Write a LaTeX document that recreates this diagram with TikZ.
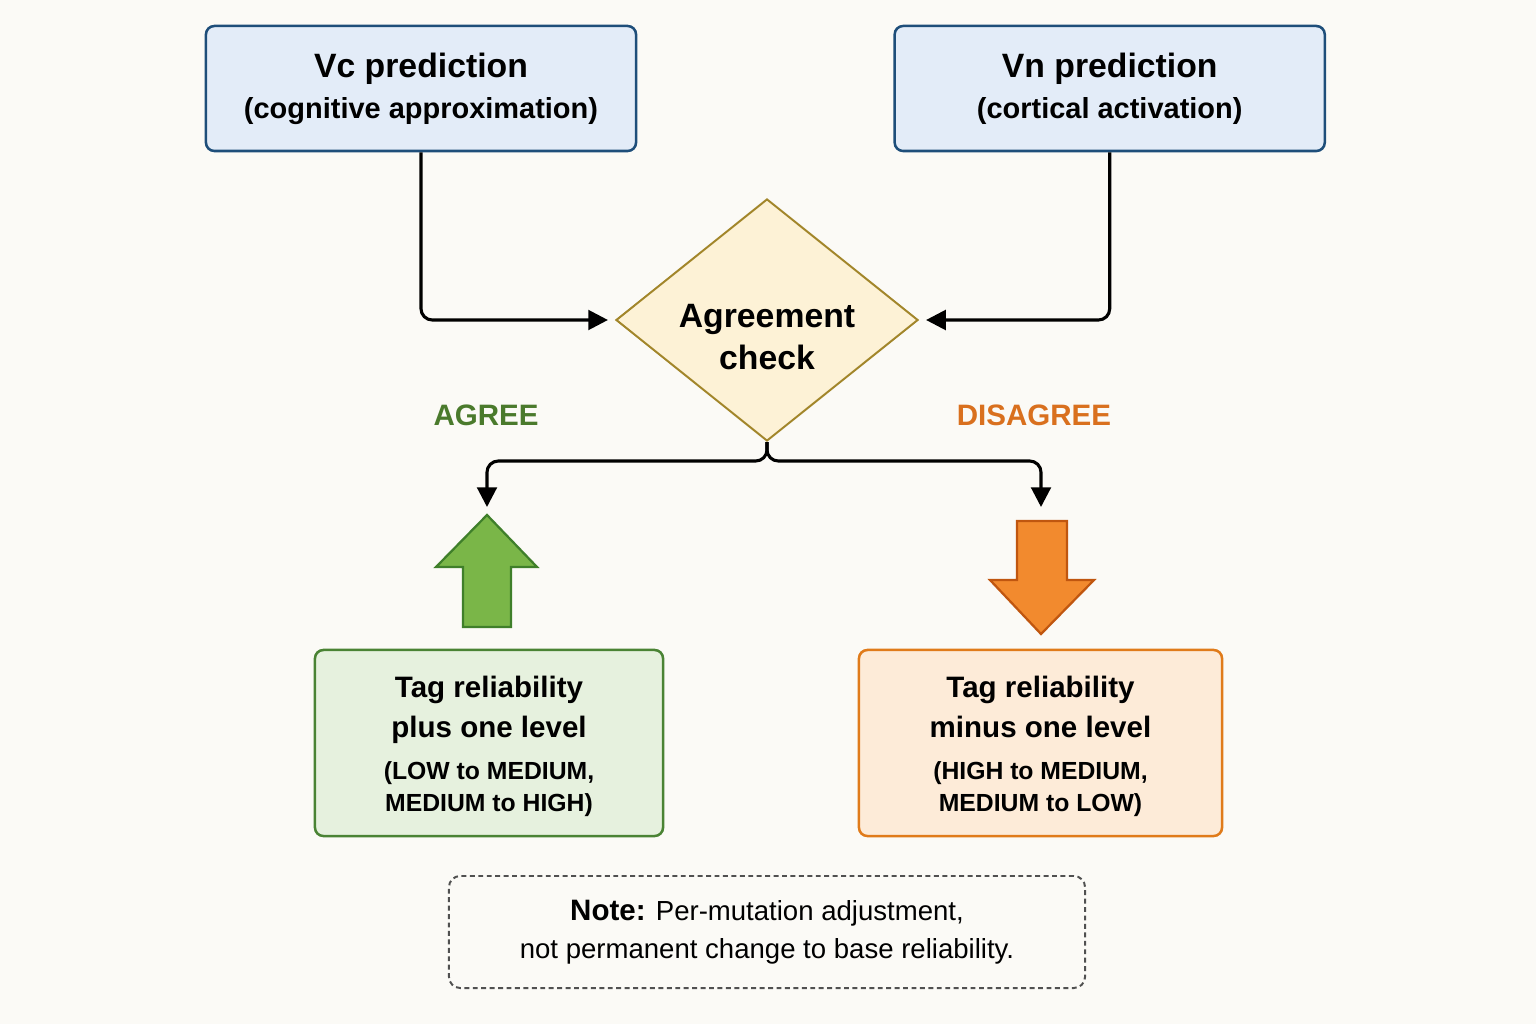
\documentclass[tikz,border=0pt]{standalone}
\usepackage{fontspec}
\setmainfont{Liberation Sans}
\usepackage{xcolor}
\usepackage{tikz}
\usetikzlibrary{shapes.geometric, arrows.meta, positioning}

\definecolor{bgcream}{HTML}{FBFAF6}
\definecolor{predfill}{HTML}{E3ECF8}
\definecolor{predline}{HTML}{1E4E7A}
\definecolor{checkfill}{HTML}{FDF2D6}
\definecolor{checkline}{HTML}{A2862A}
\definecolor{agreefill}{HTML}{E6F1DE}
\definecolor{agreeline}{HTML}{4A8334}
\definecolor{agreetext}{HTML}{4A7A2C}
\definecolor{upfill}{HTML}{7AB648}
\definecolor{upline}{HTML}{3F7F2A}
\definecolor{disfill}{HTML}{FDEBD8}
\definecolor{disline}{HTML}{E07B1A}
\definecolor{distext}{HTML}{D9701E}
\definecolor{downfill}{HTML}{F28A2E}
\definecolor{downline}{HTML}{C0560F}
\definecolor{noteline}{HTML}{505050}

\begin{document}
\begin{tikzpicture}[x=0.025cm, y=-0.025cm,
    predbox/.style={rectangle, draw=predline, fill=predfill, line width=1.8pt, rounded corners=6pt, minimum width=10.75cm, minimum height=3.125cm, align=center, font=\fontsize{24}{29}\selectfont\bfseries},
    decision/.style={diamond, draw=checkline, fill=checkfill, line width=1.4pt, aspect=1.25, inner sep=0pt, minimum width=7.55cm, minimum height=6.05cm},
    resultbox/.style={rectangle, line width=1.8pt, rounded corners=6pt, minimum height=4.65cm, align=center, font=\fontsize{21}{28}\selectfont\bfseries},
    notebox/.style={rectangle, draw=noteline, dash pattern=on 3.5pt off 2.5pt, fill=bgcream, line width=1.4pt, rounded corners=8pt, minimum width=15.9cm, minimum height=2.8cm, align=center, font=\fontsize{19.6}{27}\selectfont},
    branch/.style={font=\fontsize{21}{25}\selectfont\bfseries},
    arrow/.style={-{Triangle[length=14pt, width=14pt]}, line width=2.2pt, rounded corners=8pt}]

    \fill [bgcream] (0,0) rectangle (1536,1024);

    \node (vc) [predbox] at (421,88.5) {Vc prediction\\{\fontsize{20.6}{29}\selectfont (cognitive approximation)}};

    \node (vn) [predbox, right=6.4cm of vc] {Vn prediction\\{\fontsize{20.6}{29}\selectfont (cortical activation)}};

    \node (check) [decision, label={[name=checktext, align=center, yshift=-12pt, font=\fontsize{24}{30}\selectfont\bfseries]center:Agreement\\check}] at (767,320) {};

    \node (agree) [branch, text=agreetext] at (486,415) {AGREE};
    \node (disagree) [branch, text=distext] at (1034,415) {DISAGREE};

    \coordinate (upin) at (487,507);
    \coordinate (downin) at (1041,507);

    \node (plusbox) [resultbox, draw=agreeline, fill=agreefill, minimum width=8.7cm] at (489,743) {\rule{0pt}{20pt}Tag reliability\\plus one level\\[2pt]{\fontsize{17.6}{22}\selectfont (LOW to MEDIUM,}\\[-5.3pt]{\fontsize{17.6}{22}\selectfont MEDIUM to HIGH)}};

    \node (minusbox) [resultbox, draw=disline, fill=disfill, minimum width=9.075cm] at (1040.5,743) {\rule{0pt}{20pt}Tag reliability\\minus one level\\[2pt]{\fontsize{17.6}{22}\selectfont (HIGH to MEDIUM,}\\[-5.3pt]{\fontsize{17.6}{22}\selectfont MEDIUM to LOW)}};

    \node (note) [notebox] at (767,932) {{\fontsize{21}{27}\selectfont\bfseries Note:} Per-mutation adjustment,\\not permanent change to base reliability.};

    \filldraw [fill=upfill, draw=upline, line width=1.6pt, line join=miter] (463,627) -- (463,567) -- (436,567) -- (487,515) -- (537,567) -- (511,567) -- (511,627) -- cycle;
    \filldraw [fill=downfill, draw=downline, line width=1.6pt, line join=miter] (1017,521) -- (1017,580) -- (990,580) -- (1041,634) -- (1094,580) -- (1067,580) -- (1067,521) -- cycle;

    \draw [arrow, shorten >=5pt] (vc.south) |- (check.west);
    \draw [arrow, shorten >=5pt] (vn.south) |- (check.east);
    \draw [arrow] (check.south) -- ++(0,19) -| (upin);
    \draw [arrow] (check.south) -- ++(0,19) -| (downin);

\end{tikzpicture}
\end{document}
